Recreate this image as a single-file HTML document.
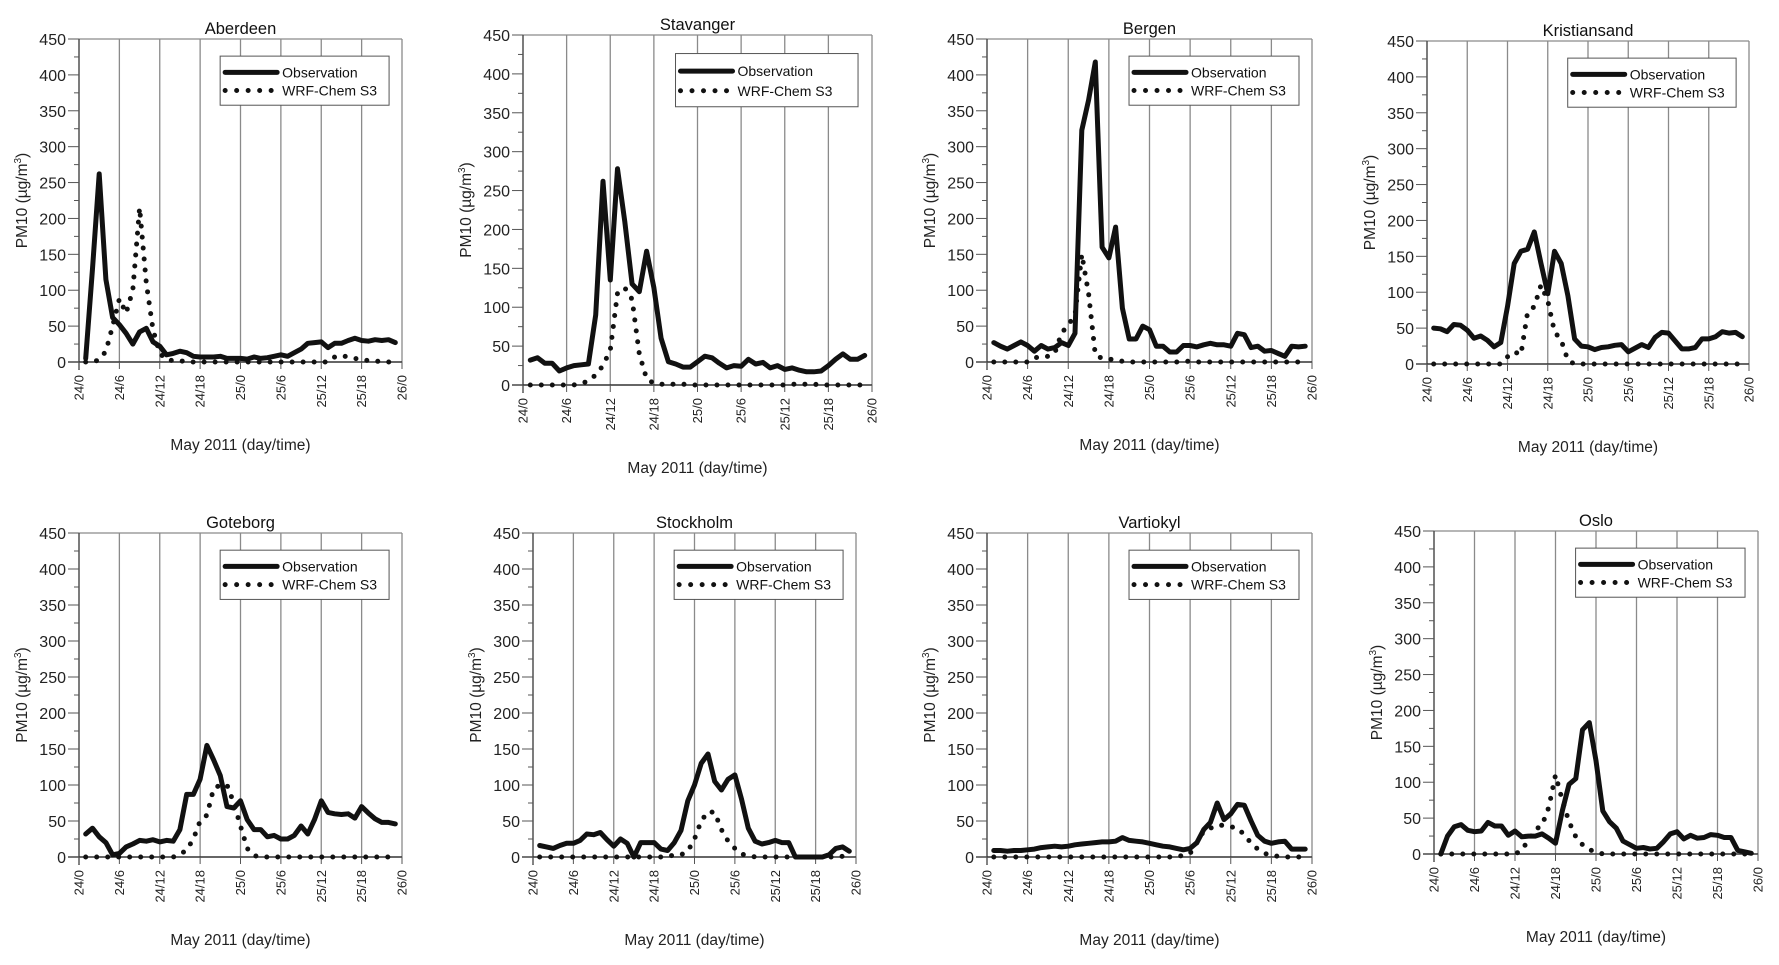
<!DOCTYPE html>
<html><head><meta charset="utf-8"><style>
html,body{margin:0;padding:0;background:#fff;}
svg{display:block;font-family:"Liberation Sans",Arial,sans-serif;}
</style></head><body>
<svg id="chart" width="1779" height="965" viewBox="0 0 1779 965" xmlns="http://www.w3.org/2000/svg"></svg>
<script>
const hours = Array.from({length:47},(_,i)=>i+1);
const xTickLabels = ["24/0","24/6","24/12","24/18","25/0","25/6","25/12","25/18","26/0"];
const yTickLabels = ["0","50","100","150","200","250","300","350","400","450"];
const stations = ["Aberdeen","Stavanger","Bergen","Kristiansand","Goteborg","Stockholm","Vartiokyl","Oslo"];

const obsAberdeen = [5,130,262,115,62,52,40,25,42,47,28,22,10,12,15,13,8,7,7,7,8,5,5,5,4,7,5,6,8,10,8,13,18,26,27,28,20,26,26,30,33,30,29,31,30,31,27];
const wrfAberdeen = [0,0,3,15,50,88,68,100,215,110,45,12,3,2,2,0,0,0,0,0,0,0,0,0,0,0,0,0,0,0,0,0,0,0,0,0,0,7,9,7,5,3,2,1,1,0,0];
const obsStavanger = [32,35,28,28,18,22,25,26,27,90,262,135,278,210,130,120,172,125,60,30,27,23,23,30,37,35,28,22,25,24,33,27,29,22,25,20,22,19,17,17,18,25,33,40,33,33,38];
const wrfStavanger = [0,0,0,0,0,0,0,2,5,13,25,45,118,125,110,40,8,2,1,1,1,1,0,0,0,0,0,0,0,0,0,0,0,0,0,0,1,1,1,1,0,0,0,0,0,0,0];
const obsBergen = [27,22,18,23,28,23,15,23,18,20,27,23,40,323,365,418,160,145,188,75,32,32,50,45,22,22,14,14,23,23,21,24,26,24,24,22,40,38,20,22,15,16,12,8,22,21,22];
const wrfBergen = [0,0,0,0,0,0,6,7,8,12,40,52,65,150,95,10,5,4,3,1,0,0,0,0,0,0,0,0,1,1,0,0,0,0,0,0,0,0,0,0,0,0,0,0,0,0,0];
const obsKristiansand = [50,49,45,55,54,47,36,39,33,24,30,80,140,157,160,184,140,98,157,140,95,35,25,24,20,23,24,26,27,17,22,27,23,37,44,43,32,21,21,23,35,35,38,45,43,44,38];
const wrfKristiansand = [0,0,0,0,0,0,0,0,0,0,0,10,17,13,72,80,110,88,45,33,5,0,0,0,0,0,0,0,0,0,0,0,0,0,0,0,0,0,0,0,0,0,0,0,0,0,0];
const obsGoteborg = [32,40,28,20,3,5,14,18,23,22,24,21,23,22,38,87,87,108,155,135,113,70,68,78,52,38,38,28,30,25,25,30,43,32,52,78,62,60,59,60,54,70,61,53,48,48,46];
const wrfGoteborg = [0,0,0,0,0,0,0,0,0,0,0,0,0,0,3,10,25,50,58,95,100,100,75,43,12,2,0,0,0,0,0,0,0,0,0,0,0,0,0,0,0,0,0,0,0,0,0];
const obsStockholm = [16,14,12,16,19,19,23,32,31,34,24,15,25,19,0,20,20,20,11,9,20,37,78,100,130,143,105,93,108,114,80,40,22,18,20,23,20,20,0,0,0,0,0,3,12,14,8];
const wrfStockholm = [0,0,0,0,0,0,0,0,0,0,0,0,0,0,0,0,0,0,0,2,2,3,8,25,50,63,62,38,22,12,4,2,0,0,0,0,0,0,0,0,0,0,0,0,0,1,0];
const obsVartiokyl = [9,9,8,9,9,10,11,13,14,15,14,15,17,18,19,20,21,21,22,27,23,22,21,19,17,15,14,12,10,12,20,38,48,75,52,60,73,72,50,30,22,19,21,22,11,11,11];
const wrfVartiokyl = [0,0,0,0,0,0,0,0,0,0,0,0,0,0,0,0,0,0,0,0,0,0,0,0,0,0,0,1,2,5,20,36,40,44,44,42,40,31,19,11,5,2,1,0,0,0,0];
const obsOslo = [0,25,38,41,33,31,32,44,39,39,26,32,24,25,25,28,22,15,60,97,105,173,183,130,60,45,36,18,13,8,9,7,8,17,28,31,21,26,22,23,27,26,23,23,5,3,1];
const wrfOslo = [0,0,0,0,0,0,0,0,0,0,0,0,5,20,34,40,65,110,75,45,24,13,6,3,0,0,0,0,0,0,0,0,0,0,0,0,0,0,0,0,0,0,0,0,0,0,0];

const obsSeries = [obsAberdeen,obsStavanger,obsBergen,obsKristiansand,obsGoteborg,obsStockholm,obsVartiokyl,obsOslo];
const wrfSeries = [wrfAberdeen,wrfStavanger,wrfBergen,wrfKristiansand,wrfGoteborg,wrfStockholm,wrfVartiokyl,wrfOslo];

const panels = [
 {x0:79,x1:402,yt:39,y0:362},{x0:523,x1:872,yt:35,y0:385},{x0:987,x1:1312,yt:39,y0:362},{x0:1427,x1:1749,yt:41,y0:364},
 {x0:79,x1:402,yt:533,y0:857},{x0:533,x1:856,yt:533,y0:857},{x0:987,x1:1312,yt:533,y0:857},{x0:1434,x1:1758,yt:531,y0:854}
];
const NS="http://www.w3.org/2000/svg";
const svg=document.getElementById('chart');
function mk(tag,attrs,parent){const e=document.createElementNS(NS,tag);for(const k in attrs)e.setAttribute(k,attrs[k]);(parent||svg).appendChild(e);return e;}

panels.forEach((p,pi)=>{
  const g=mk('g',{});
  
  
  const w=p.x1-p.x0,h=p.y0-p.yt;
  const xs=t=>p.x0+t/48*w;
  const ys=v=>p.y0-v/450*h;
  for(let i=1;i<8;i++){
    const l=mk('line',{x1:xs(i*6),x2:xs(i*6),y1:p.yt,y2:p.y0,stroke:'#8a8a8a','stroke-width':1.3},g);
    
    
  }
  mk('line',{x1:p.x0,x2:p.x1,y1:p.yt,y2:p.yt,stroke:'#8a8a8a','stroke-width':1.3},g);
  mk('line',{x1:p.x1,x2:p.x1,y1:p.yt,y2:p.y0,stroke:'#8a8a8a','stroke-width':1.3},g);
  const ya=mk('line',{x1:p.x0,x2:p.x0,y1:p.yt,y2:p.y0+8,stroke:'#444','stroke-width':1.4},g);
  
  
  const xa=mk('line',{x1:p.x0-11,x2:p.x1,y1:p.y0,y2:p.y0,stroke:'#333','stroke-width':1.6},g);
  
  
  for(let v=0;v<=450;v+=25){
    const maj=v%50===0;
    mk('line',{x1:p.x0-(maj?11:5),x2:p.x0,y1:ys(v),y2:ys(v),stroke:'#555','stroke-width':1},g);
  }
  yTickLabels.forEach(lbl=>{
    const t=mk('text',{x:p.x0-13,y:ys(+lbl)+6,'text-anchor':'end','font-size':16,fill:'#222'},g);
    t.textContent=lbl;
    
    
  });
  xTickLabels.forEach((lbl,i)=>{
    const x=xs(i*6);
    mk('line',{x1:x,x2:x,y1:p.y0,y2:p.y0+7,stroke:'#555','stroke-width':1},g);
    const t=mk('text',{x:0,y:0,'text-anchor':'end','font-size':13,fill:'#222',transform:`translate(${x+4.5},${p.y0+13}) rotate(-90)`},g);
    t.textContent=lbl;
    
    
  });
  const tt=mk('text',{x:(p.x0+p.x1)/2,y:p.yt-5,'text-anchor':'middle','font-size':16.5,fill:'#111'},g);
  tt.textContent=stations[pi];
  
  
  const yt=mk('text',{x:0,y:0,'text-anchor':'middle','font-size':15.5,fill:'#222',transform:`translate(${p.x0-52},${(p.yt+p.y0)/2}) rotate(-90)`},g);
  yt.innerHTML='PM10 (µg/m<tspan dy="-6" font-size="10">3</tspan><tspan dy="6">)</tspan>';
  
  
  const xt=mk('text',{x:(p.x0+p.x1)/2,y:p.y0+88,'text-anchor':'middle','font-size':15.5,fill:'#222'},g);
  xt.textContent='May 2011 (day/time)';
  
  
  const wd=wrfSeries[pi].map((v,i)=>(i?'L':'M')+xs(hours[i]).toFixed(1)+','+ys(v).toFixed(1)).join('');
  const wp=mk('path',{d:wd,fill:'none',stroke:'#111','stroke-width':5,'stroke-linecap':'round','stroke-dasharray':'0 11'},g);
  
  
  const od=obsSeries[pi].map((v,i)=>(i?'L':'M')+xs(hours[i]).toFixed(1)+','+ys(v).toFixed(1)).join('');
  const op=mk('path',{d:od,fill:'none',stroke:'#111','stroke-width':5,'stroke-linejoin':'round','stroke-linecap':'round'},g);
  
  
  const lx=p.x0+0.437*w, rx=p.x1-0.04*w, ly=p.yt+0.053*h, lh=0.152*h;
  const lg=mk('g',{},g);
  
  
  mk('rect',{x:lx,y:ly,width:rx-lx,height:lh,fill:'#fff',stroke:'#555','stroke-width':1},lg);
  mk('line',{x1:lx+5,x2:lx+57,y1:ly+lh*0.33,y2:ly+lh*0.33,stroke:'#111','stroke-width':5,'stroke-linecap':'round'},lg);
  mk('line',{x1:lx+5,x2:lx+52,y1:ly+lh*0.7,y2:ly+lh*0.7,stroke:'#111','stroke-width':5,'stroke-linecap':'round','stroke-dasharray':'0 11.5'},lg);
  const l1=mk('text',{x:lx+62,y:ly+lh*0.33+5,'font-size':14,fill:'#111'},lg);
  l1.textContent='Observation';
  
  
  const l2=mk('text',{x:lx+62,y:ly+lh*0.7+5,'font-size':14,fill:'#111'},lg);
  l2.textContent='WRF-Chem S3';
  
  
});
</script>
</body></html>
